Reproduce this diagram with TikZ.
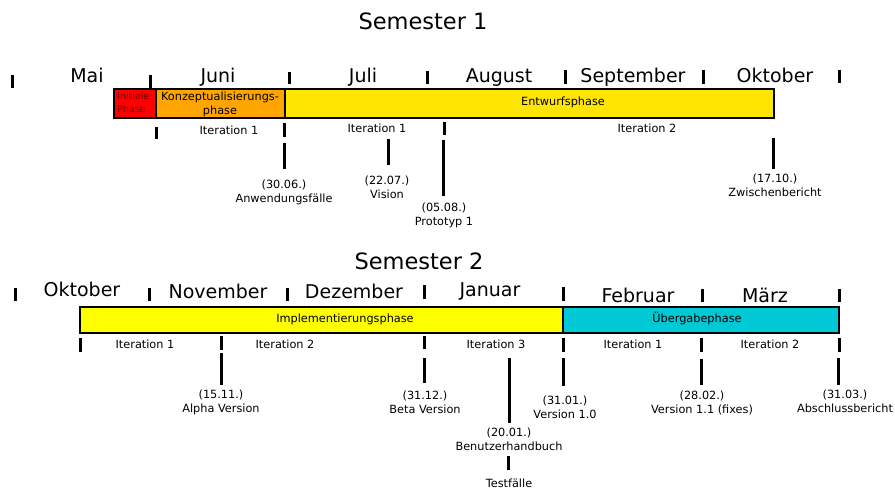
\documentclass[tikz,border=0pt]{standalone}
\usepackage{fontspec}
\setmainfont{DejaVu Sans}
\usetikzlibrary{positioning}

\definecolor{initial}{RGB}{255,0,0}
\definecolor{initialtext}{RGB}{120,0,0}
\definecolor{konzept}{RGB}{255,165,0}
\definecolor{entwurf}{RGB}{255,230,0}
\definecolor{implement}{RGB}{255,255,0}
\definecolor{uebergabe}{RGB}{0,200,212}

\begin{document}
\begin{tikzpicture}[
  x=1pt, y=-1pt,
  every node/.style={
    inner sep=1pt, font=\fontsize{11.3}{14}\selectfont,
  },
  title/.style={font=\fontsize{22.5}{26}\selectfont, anchor=base},
  month/.style={font=\fontsize{19}{22}\selectfont, anchor=base},
  small/.style={anchor=base},
  milestone/.style={anchor=north, align=center},
  phase/.style={draw, line width=1.2pt},
  tick/.style={line width=3pt}
  ]
  \useasboundingbox (0,0) rectangle (895,490);

  % Semester 1
  \node[title] (sem1) at (423,29) {Semester 1};
  \foreach \x/\a/\b in {12/75/88, 150/75/89, 289/72/84, 427/71/84, 565/70/84, 703/70/84, 839/70/83}
    \draw[tick] (\x,\a) -- (\x,\b);
  \foreach \name/\x/\m in {mai/87/Mai, jun/218/Juni, jul/363/Juli, aug/499/August, sep/633/September, okt/775/Oktober}
    \node[month] (\name) at (\x,82) {\m};

  \draw[phase, fill=initial] (114,89) rectangle (156,118);
  \draw[phase, fill=konzept] (156,89) rectangle (285,118);
  \draw[phase, fill=entwurf] (285,89) rectangle (774,118);
  \node[font=\fontsize{9.5}{12.5}\selectfont, text=initialtext, align=left, anchor=north west]
    (initial) at (116,91.5) {Initiale\\Phase};
  \node[align=center, anchor=north] (konzept) at (220,90.7) {Konzeptualisierungs-\\phase};
  \node[small] (entwurf) at (563,105) {Entwurfsphase};

  \foreach \x/\a/\b in {156/127/139, 284/123/137, 444/122/135}
    \draw[tick] (\x,\a) -- (\x,\b);
  \node[small] (iterA) at (229,134) {Iteration 1};
  \node[small] (iterB) at (377,132) {Iteration 1};
  \node[small] (iterC) at (647,132) {Iteration 2};

  \coordinate (anwtop) at (284,143);
  \coordinate (vistop) at (388,139);
  \coordinate (prototop) at (443,140);
  \coordinate (zwtop) at (773,138);
  \node[milestone] (anw) at (284,178.4) {(30.06.)\\Anwendungsfälle};
  \node[milestone] (vis) at (387,174.9) {(22.07.)\\Vision};
  \node[milestone] (proto) at (444,201.9) {(05.08.)\\Prototyp 1};
  \node[milestone] (zw) at (775,172.4) {(17.10.)\\Zwischenbericht};
  \draw[tick, shorten >=9.4pt] (anwtop) -- (anwtop |- anw.north);
  \draw[tick, shorten >=9.9pt] (vistop) -- (vistop |- vis.north);
  \draw[tick, shorten >=5.9pt] (prototop) -- (prototop |- proto.north);
  \draw[tick, shorten >=3.4pt] (zwtop) -- (zwtop |- zw.north);

  % Semester 2
  \node[title] (sem2) at (419,269) {Semester 2};
  \foreach \x/\a/\b in {15/288/301, 149/288/301, 287/288/301, 424/285/299, 563/287/301, 702/289/302, 839/289/302}
    \draw[tick] (\x,\a) -- (\x,\b);
  \foreach \name/\x/\y/\m in {okt2/82/296/Oktober, nov/218/298/November, dez/354/298/Dezember, jan/490/296/Januar, feb/638/302/Februar, mrz/765/302/März}
    \node[month] (\name) at (\x,\y) {\m};

  \draw[phase, fill=implement] (80,307) rectangle (563,333);
  \draw[phase, fill=uebergabe] (563,307) rectangle (839,333);
  \node[small] (implement) at (345,322) {Implementierungsphase};
  \node[small] (uebergabe) at (697,322) {Übergabephase};

  \foreach \x/\a/\b in {80/338/352, 221/336/350, 424/336/349, 563/338/352, 701/338/352, 839/338/352}
    \draw[tick] (\x,\a) -- (\x,\b);
  \foreach \name/\x/\t in {iterD/145/Iteration 1, iterE/285/Iteration 2, iterF/496/Iteration 3, iterG/633/Iteration 1, iterH/770/Iteration 2}
    \node[small] (\name) at (\x,348) {\t};

  \coordinate (alphatop) at (221,353);
  \coordinate (betatop) at (424,358);
  \coordinate (handtop) at (509,358);
  \coordinate (testtop) at (508,456);
  \coordinate (vertop) at (563,358);
  \coordinate (fixtop) at (701,359);
  \coordinate (abtop) at (838,358);
  \node[milestone] (alpha) at (221,389.1) {(15.11.)\\Alpha Version};
  \node[milestone] (beta) at (425,390.1) {(31.12.)\\Beta Version};
  \node[milestone] (hand) at (509,426.4) {(20.01.)\\Benutzerhandbuch};
  \node[small] (test) at (509,487) {Testfälle};
  \node[milestone] (ver) at (565,394.7) {(31.01.)\\Version 1.0};
  \node[milestone] (fix) at (702,390.1) {(28.02.)\\Version 1.1 (fixes)};
  \node[milestone] (ab) at (845,389.1) {(31.03.)\\Abschlussbericht};
  \draw[tick, shorten >=4.1pt] (alphatop) -- (alphatop |- alpha.north);
  \draw[tick, shorten >=7.1pt] (betatop) -- (betatop |- beta.north);
  \draw[tick, shorten >=3.4pt] (handtop) -- (handtop |- hand.north);
  \draw[tick, shorten >=7.4pt] (testtop) -- (testtop |- test.north);
  \draw[tick, shorten >=8.7pt] (vertop) -- (vertop |- ver.north);
  \draw[tick, shorten >=5.1pt] (fixtop) -- (fixtop |- fix.north);
  \draw[tick, shorten >=4.1pt] (abtop) -- (abtop |- ab.north);
\end{tikzpicture}
\end{document}
